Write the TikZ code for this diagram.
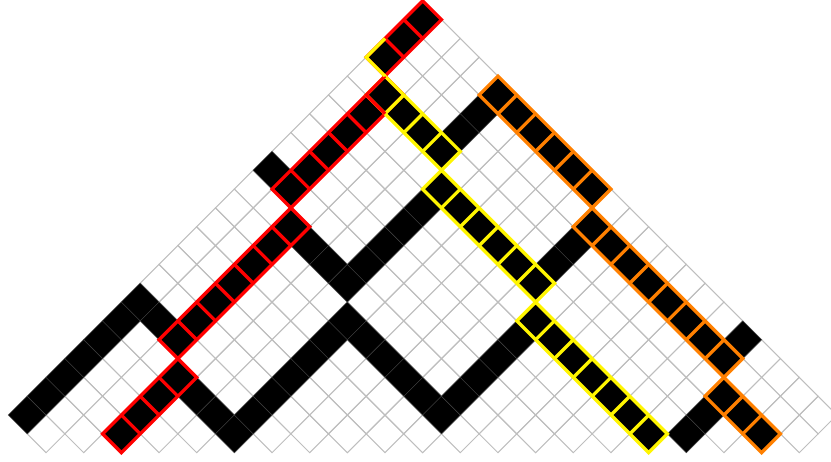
\documentclass[tikz,border=0pt]{standalone}
\definecolor{gridgray}{RGB}{190,190,190}
\definecolor{rayred}{RGB}{255,0,0}
\definecolor{rayyellow}{RGB}{255,245,0}
\definecolor{rayorange}{RGB}{255,128,0}
% "/" strip: style, k1, m1 (lowest cell), n cells
\newcommand{\slashstrip}[4]{%
  \pgfmathtruncatemacro{\sK}{#2+#4-1}%
  \pgfmathtruncatemacro{\sM}{#3+#4-1}%
  \draw[#1] (#2-1,#3) -- (\sK,\sM+1) -- (\sK+1,\sM) -- (#2,#3-1) -- cycle;
  \ifnum#4>1
    \pgfmathtruncatemacro{\sN}{#4-2}%
    \foreach \i in {0,...,\sN}{\draw[#1] (#2+\i,#3+\i+1) -- (#2+\i+1,#3+\i);}
  \fi}
% "\" strip: style, k1, m1 (highest cell), n cells
\newcommand{\bslashstrip}[4]{%
  \pgfmathtruncatemacro{\sK}{#2+#4-1}%
  \pgfmathtruncatemacro{\sM}{#3-#4+1}%
  \draw[#1] (#2,#3+1) -- (\sK+1,\sM) -- (\sK,\sM-1) -- (#2-1,#3) -- cycle;
  \ifnum#4>1
    \pgfmathtruncatemacro{\sN}{#4-2}%
    \foreach \i in {0,...,\sN}{\draw[#1] (#2+\i+1,#3-\i) -- (#2+\i,#3-\i-1);}
  \fi}
\begin{document}
\begin{tikzpicture}[x=18.83pt,y=18.83pt,
  gridcell/.style={draw=gridgray,line width=1pt},
  blackcell/.style={fill=black,draw=black!75,line width=0.4pt},
  redray/.style={draw=rayred,line width=3.3pt},
  yellowray/.style={draw=rayyellow,line width=3.3pt},
  orangeray/.style={draw=rayorange,line width=3.3pt}]
\useasboundingbox (-0.446,-0.441) rectangle (43.686,24.042);
% grid of diamonds
\foreach \m in {1,...,23}{
  \foreach \k in {0,...,44}{
    \ifodd\numexpr\k+\m\relax
      \ifnum\numexpr\m-\k\relax<2
        \ifnum\numexpr\k+\m\relax<46
          \ifnum\numexpr\m*100+\k\relax=100 \else
          \ifnum\numexpr\m*100+\k\relax=144 \else
            \draw[gridcell] (\k-1,\m) -- (\k,\m+1) -- (\k+1,\m) -- (\k,\m-1) -- cycle;
          \fi\fi
        \fi
      \fi
    \fi
  }
}
% black cells
\foreach \k/\m in {1/2,2/3,3/4,4/5,5/6,6/7,7/8,8/7,9/6,10/7,11/8,12/9,13/10,14/11,15/12,
  16/11,17/10,18/9,19/10,20/11,21/12,22/13,23/14,24/13,25/12,26/11,27/10,28/9,29/10,30/11,
  31/12,32/11,33/10,34/9,35/8,36/7,37/6,38/5,39/6,
  6/1,7/2,8/3,9/4,10/3,11/2,12/1,13/2,14/3,15/4,16/5,17/6,18/7,19/6,20/5,21/4,22/3,23/2,
  24/3,25/4,26/5,27/6,28/7,29/6,30/5,31/4,32/3,33/2,34/1,
  14/15,15/14,16/15,17/16,18/17,19/18,20/19,21/18,22/17,23/16,24/17,25/18,26/19,27/18,
  28/17,29/16,30/15,31/14,
  20/21,21/22,22/23,
  36/1,37/2,38/3,39/2,40/1}{
  \draw[blackcell] (\k-1,\m) -- (\k,\m+1) -- (\k+1,\m) -- (\k,\m-1) -- cycle;
}
% red rays
\slashstrip{redray}{20}{21}{3}
\slashstrip{redray}{15}{14}{6}
\slashstrip{redray}{9}{6}{7}
\slashstrip{redray}{6}{1}{4}
% yellow rays
\bslashstrip{yellowray}{20}{19}{4}
\bslashstrip{yellowray}{23}{14}{6}
\bslashstrip{yellowray}{28}{7}{7}
% orange rays
\bslashstrip{orangeray}{26}{19}{6}
\bslashstrip{orangeray}{31}{12}{8}
\bslashstrip{orangeray}{38}{3}{3}
% shared cells
\draw[redray] (20,20) -- (19,19) -- (20,18);
\draw[yellowray] (20,22) -- (19,21) -- (20,20);
\end{tikzpicture}
\end{document}
